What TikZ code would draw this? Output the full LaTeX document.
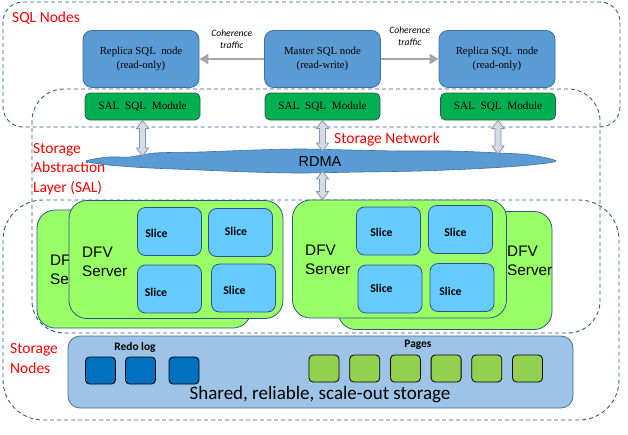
\documentclass[tikz,border=0pt]{standalone}
\usepackage{fontspec}
\setmainfont{Liberation Serif}
\setsansfont{Liberation Sans}
\newfontfamily\calibri{Carlito}
\usetikzlibrary{arrows.meta,calc}

\definecolor{frameblue}{HTML}{2F5B8A}
\definecolor{sqlblue}{HTML}{5B9BD5}
\definecolor{sqledge}{HTML}{41719C}
\definecolor{modgreen}{HTML}{00B050}
\definecolor{modedge}{HTML}{2A5F45}
\definecolor{dfvgreen}{HTML}{99FF66}
\definecolor{dfvedge}{HTML}{2F528F}
\definecolor{slicecyan}{HTML}{66CCFF}
\definecolor{storeblue}{HTML}{9DC3E6}
\definecolor{redoblue}{HTML}{0070C0}
\definecolor{pagegreen}{HTML}{92D050}
\definecolor{arrowfill}{HTML}{D6DCE5}
\definecolor{arrowedge}{HTML}{8497B0}
\definecolor{cohgray}{HTML}{A6A6A6}

\tikzset{
  region/.style={draw=frameblue, line width=0.9pt, dash pattern=on 4pt off 3pt, rounded corners=#1},
  region/.default=20pt,
  sqlnode/.style={draw=sqledge, fill=sqlblue, line width=0.8pt, rounded corners=9pt,
    minimum width=116pt, minimum height=57pt, align=center,
    font=\fontsize{10.8}{14}\selectfont},
  salmod/.style={draw=modedge, fill=modgreen, line width=0.8pt, rounded corners=5pt,
    minimum width=115pt, minimum height=27pt, font=\fontsize{11.2}{12}\selectfont},
  server/.style={draw=dfvedge, fill=dfvgreen, line width=0.8pt, rounded corners=18pt,
    minimum width=214pt, minimum height=118pt},
  srvtext/.style={anchor=west, align=left, inner sep=0pt,
    font=\sffamily\fontsize{15.3}{19}\selectfont},
  slice/.style={draw=dfvedge, fill=slicecyan, line width=0.8pt, rounded corners=8pt,
    minimum width=64pt, minimum height=48pt},
  slicetxt/.style={font=\calibri\bfseries\fontsize{11.8}{13}\selectfont},
  redtxt/.style={text=red, anchor=west, align=left, inner sep=0pt,
    font=\calibri\fontsize{15.5}{19.5}\selectfont},
  cohtxt/.style={align=center, font=\calibri\itshape\fontsize{9.6}{12}\selectfont},
  coh/.style={draw=cohgray, line width=2.5pt, -{Triangle[length=9pt,width=10pt]}},
  block/.style={draw=black, line width=0.8pt, rounded corners=4pt,
    minimum width=30pt, minimum height=27pt},
  busarrow/.style={fill=arrowfill, draw=arrowedge, line width=0.8pt},
  cloud/.style={fill=sqlblue, draw=sqledge, line width=0.6pt}
}

% vertical two-headed block arrow from top point #1 down to point #2
\newcommand{\busarrow}[2]{%
  \filldraw[busarrow] let \p1=(#1), \p2=(#2) in
    (\x1,\y1) -- (\x1+6pt,\y1-8pt) -- (\x1+3pt,\y1-8pt) -- (\x1+3pt,\y2+8pt)
    -- (\x1+6pt,\y2+8pt) -- (\x1,\y2) -- (\x1-6pt,\y2+8pt) -- (\x1-3pt,\y2+8pt)
    -- (\x1-3pt,\y1-8pt) -- (\x1-6pt,\y1-8pt) -- cycle;}

\begin{document}
\begin{tikzpicture}[x=1pt, y=-1pt]
  \useasboundingbox (0,0) rectangle (628,434);

  % Dashed regions
  \draw[region] (3,2) rectangle (620,127);
  \draw[region=32pt] (32,89) rectangle (600,333);
  \draw[region=40pt] (3,200) rectangle (619,420);

  % Region labels
  \node[redtxt] (lblsql) at (12,18) {SQL Nodes};
  \node[redtxt] (lblsal) at (33,169) {Storage\\Abstraction\\Layer (SAL)};
  \node[redtxt] (lblnet) at (334,139) {Storage Network};
  \node[redtxt] (lblsto) at (10,358.5) {Storage\\Nodes};

  % SQL nodes
  \node[sqlnode] (replL) at (141,59) {Replica SQL~ node\\(read-only)};
  \node[sqlnode] (master) at (322.5,59) {Master SQL node\\(read-write)};
  \node[sqlnode] (replR) at (497,59) {Replica SQL~ node\\(read-only)};

  % Coherence traffic
  \draw[coh] (master.west) -- node[cohtxt, above=6pt] (cohL) {Coherence\\traffic} (replL.east);
  \draw[coh] (master.east) -- node[cohtxt, above=9pt] (cohR) {Coherence\\traffic} (replR.west);

  % SAL SQL modules
  \node[salmod] (modL) at (142.5,106.5) {SAL~ SQL~ Module};
  \node[salmod] (modM) at (322.5,106.5) {SAL~ SQL~ Module};
  \node[salmod] (modR) at (498,106.5) {SAL~ SQL~ Module};

  % RDMA cloud
  \draw[cloud] plot[smooth cycle, tension=0.55] coordinates {
    (86,161) (108,157) (130,157) (155,153) (200,152) (255,150) (300,149)
    (350,150) (400,151) (450,151) (500,153) (530,155) (556,161)
    (530,165) (505,167) (470,169) (420,171) (360,172) (300,173)
    (250,172) (200,170) (150,168) (120,166) (100,164)};
  \node[font=\sffamily\fontsize{14.5}{16}\selectfont] (rdma) at (320,162) {RDMA};
  \coordinate (netL) at (142.5,156);
  \coordinate (netM) at (322.5,151);
  \coordinate (netR) at (498,154);
  \coordinate (netB) at (322.5,171);

  % DFV servers (back copies first)
  \node[server] (srvLb) at (144,269) {};
  \node[srvtext] (srvLbt) at (50,269.5) {DFV\\Server};
  \node[server] (srvRb) at (445,270.5) {};
  \node[server] (srvLf) at (176,259.5) {};
  \node[srvtext] (srvLft) at (82,261.5) {DFV\\Server};
  \node[server] (srvRf) at (399.5,259) {};
  \node[srvtext] (srvRft) at (305,260) {DFV\\Server};
  \node[srvtext] (srvRbt) at (507,261) {DFV\\Server};

  % Slices
  \foreach \n/\x/\y/\tx/\ty in {sA/169.5/231.5/156.5/233, sB/240.5/232.5/236/231,
      sC/169.5/289/156/292, sD/243.5/288/234.5/290,
      sE/388.5/231/381.5/232, sF/460.5/229.5/455.5/232,
      sG/390/289/381.5/288, sH/462/287.5/450.5/291} {
    \node[slice] (\n) at (\x,\y) {};
    \node[slicetxt] (\n-t) at (\tx,\ty) {Slice};
  }

  % Block arrows to and from the network
  \busarrow{modL.south}{netL}
  \busarrow{modM.south}{netM}
  \busarrow{modR.south}{netR}
  \busarrow{netB}{netB |- srvRf.north}

  % Shared storage
  \node[draw=sqledge, fill=storeblue, line width=0.8pt, rounded corners=12pt,
    minimum width=505pt, minimum height=72pt] (store) at (320.5,372) {};
  \node[font=\calibri\bfseries\fontsize{11.4}{12}\selectfont] (redolbl) at (135,347) {Redo log};
  \node[font=\calibri\bfseries\fontsize{11.4}{12}\selectfont] (pagelbl) at (418,345) {Pages};
  \foreach \n/\x in {1/100.5, 2/140.5, 3/184}
    \node[block, fill=redoblue] (redo\n) at (\x,370.5) {};
  \foreach \i in {0,...,5}
    \node[block, fill=pagegreen] (page\i) at ({324+40.7*\i},368.5) {};
  \node[font=\calibri\fontsize{19}{20}\selectfont] (storetxt) at (320,395)
    {Shared, reliable, scale-out storage};
\end{tikzpicture}
\end{document}
